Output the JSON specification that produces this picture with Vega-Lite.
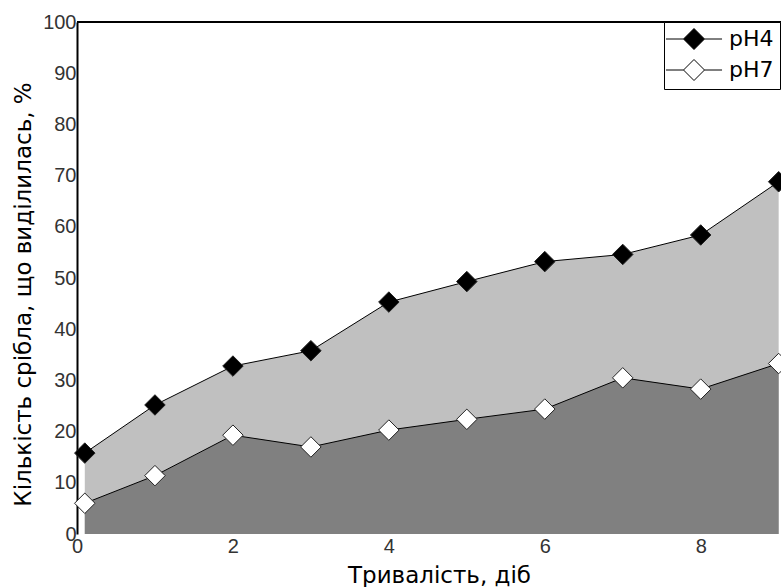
{
  "$schema": "https://vega.github.io/schema/vega-lite/v6.json",
  "width": 704,
  "height": 512,
  "autosize": {"type": "none"},
  "padding": {"left": 77, "top": 22, "right": 0, "bottom": 53},
  "background": "white",
  "config": {"view": {"stroke": null}, "font": "Liberation Sans"},
  "data": {
    "values": [
      {"day": 0.1, "series": "pH4", "value": 15.8},
      {"day": 1, "series": "pH4", "value": 25.2},
      {"day": 2, "series": "pH4", "value": 32.8},
      {"day": 3, "series": "pH4", "value": 35.8},
      {"day": 4, "series": "pH4", "value": 45.3},
      {"day": 5, "series": "pH4", "value": 49.3},
      {"day": 6, "series": "pH4", "value": 53.2},
      {"day": 7, "series": "pH4", "value": 54.6},
      {"day": 8, "series": "pH4", "value": 58.4},
      {"day": 9, "series": "pH4", "value": 68.8},
      {"day": 0.1, "series": "pH7", "value": 6.0},
      {"day": 1, "series": "pH7", "value": 11.4},
      {"day": 2, "series": "pH7", "value": 19.3},
      {"day": 3, "series": "pH7", "value": 17.0},
      {"day": 4, "series": "pH7", "value": 20.3},
      {"day": 5, "series": "pH7", "value": 22.4},
      {"day": 6, "series": "pH7", "value": 24.4},
      {"day": 7, "series": "pH7", "value": 30.5},
      {"day": 8, "series": "pH7", "value": 28.3},
      {"day": 9, "series": "pH7", "value": 33.3}
    ]
  },
  "encoding": {
    "x": {
      "field": "day",
      "type": "quantitative",
      "scale": {"domain": [0, 9.03], "nice": false, "zero": false},
      "axis": {
        "values": [0, 2, 4, 6, 8],
        "domain": false,
        "ticks": false,
        "grid": false,
        "labelPadding": 2,
        "labelFlush": false,
        "labelOverlap": false,
        "labelFont": "Liberation Sans",
        "labelFontSize": 20,
        "labelColor": "#333333",
        "title": "Тривалість, діб",
        "titleFont": "DejaVu Sans",
        "titleFontSize": 23,
        "titleFontWeight": "normal",
        "titleColor": "black",
        "titleX": 362,
        "titleY": 48,
        "titleAlign": "center",
        "titleBaseline": "alphabetic"
      }
    },
    "y": {
      "field": "value",
      "type": "quantitative",
      "scale": {"domain": [0, 100], "nice": false},
      "axis": {
        "values": [0, 10, 20, 30, 40, 50, 60, 70, 80, 90, 100],
        "domain": true,
        "domainColor": "black",
        "domainWidth": 2,
        "ticks": false,
        "grid": false,
        "labelPadding": 1,
        "labelFlush": false,
        "labelOverlap": false,
        "labelFont": "Liberation Sans",
        "labelFontSize": 20,
        "labelColor": "#333333",
        "title": "Кількість срібла, що виділилась, %",
        "titleFont": "DejaVu Sans",
        "titleFontSize": 23,
        "titleFontWeight": "normal",
        "titleColor": "black",
        "titleX": -47,
        "titleY": 272,
        "titleAngle": -90,
        "titleAlign": "center",
        "titleBaseline": "alphabetic"
      }
    }
  },
  "layer": [
    {
      "transform": [{"filter": "datum.series === 'pH4'"}],
      "mark": {"type": "area", "color": "#c0c0c0", "opacity": 1}
    },
    {
      "transform": [{"filter": "datum.series === 'pH7'"}],
      "mark": {"type": "area", "color": "#808080", "opacity": 1}
    },
    {
      "mark": {"type": "line", "color": "black", "strokeWidth": 1},
      "encoding": {"detail": {"field": "series", "type": "nominal"}}
    },
    {
      "mark": {
        "type": "point",
        "shape": "diamond",
        "filled": true,
        "size": 420,
        "stroke": "#222222",
        "strokeWidth": 1,
        "opacity": 1
      },
      "encoding": {
        "fill": {
          "field": "series",
          "type": "nominal",
          "scale": {"domain": ["pH4", "pH7"], "range": ["black", "white"]},
          "legend": {
            "orient": "none",
            "legendX": 587,
            "legendY": 0,
            "title": null,
            "padding": 6,
            "strokeColor": "black",
            "fillColor": "white",
            "symbolType": "M-2.67,0H-1M1,0H2.67M-1,0L0,-1L1,0L0,1Z",
            "symbolSize": 441,
            "symbolOffset": 13,
            "symbolStrokeColor": "black",
            "symbolStrokeWidth": 1,
            "symbolOpacity": 1,
            "labelOffset": 24,
            "rowPadding": 5,
            "labelFont": "DejaVu Sans",
            "labelFontSize": 22,
            "labelColor": "black"
          }
        }
      }
    },
    {
      "mark": {"type": "rule", "color": "black", "strokeWidth": 2},
      "encoding": {
        "y": {"datum": 100},
        "x": {"datum": 0},
        "x2": {"datum": 9.03}
      }
    }
  ]
}
